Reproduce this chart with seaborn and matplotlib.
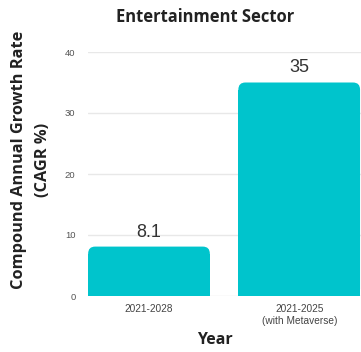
import matplotlib
matplotlib.use("Agg")
import matplotlib.pyplot as plt
from matplotlib.patches import FancyBboxPatch
import seaborn as sns
import pandas as pd

# Chart data
periods = ["2021-2028", "2021-2025\n(with Metaverse)"]
cagr = [8.1, 35]
y_ticks = [0, 10, 20, 30, 40]

title = "Entertainment Sector"
y_title = "Compound Annual Growth Rate\n(CAGR %)"
x_title = "Year"

BAR_COLOR = "#00C4CC"
GRID_COLOR = "#e8e8e8"
HEAD_FONT = ["Open Sans", "DejaVu Sans"]
BODY_FONT = ["Liberation Sans", "DejaVu Sans"]

sns.set_theme(style="white")
plt.rcParams["font.family"] = BODY_FONT

W, H = 361, 352
fig = plt.figure(figsize=(W / 100, H / 100), dpi=100)
ax_left, ax_right, ax_top, ax_bottom = 88, 362, 52, 296
ax = fig.add_axes([ax_left / W, (H - ax_bottom) / H,
                   (ax_right - ax_left) / W, (ax_bottom - ax_top) / H])

df = pd.DataFrame({"period": periods, "cagr": cagr})
sns.barplot(data=df, x="period", y="cagr", color=BAR_COLOR, saturation=1,
            width=0.81, ax=ax, zorder=3)

x_min, x_max = -0.406, 1.418
ax.set_xlim(x_min, x_max)
ax.set_ylim(0, 40)
ax.set_yticks(y_ticks)
ax.set_yticklabels([str(t) for t in y_ticks], fontsize=6.8, color="#555555")
ax.tick_params(axis="y", length=0, pad=9)
ax.tick_params(axis="x", length=0, pad=5.5, labelsize=7.3, labelcolor="#444444")
for lbl in ax.get_xticklabels():
    lbl.set_linespacing(1.25)

ax.grid(axis="y", color=GRID_COLOR, linewidth=1, zorder=0)
ax.set_axisbelow(True)
for s in ax.spines.values():
    s.set_visible(False)
ax.set_xlabel("")
ax.set_ylabel("")

# Rounded tops on the bars (square bottoms kept by the original patch)
ax_w_px = ax_right - ax_left
ax_h_px = ax_bottom - ax_top
x_per_px = (x_max - x_min) / ax_w_px
y_per_px = 40 / ax_h_px
radius_px = 7
rx = radius_px * x_per_px
aspect = y_per_px / x_per_px
ry = rx * aspect
for p in list(ax.patches):
    x0, y0, w, h = p.get_x(), p.get_y(), p.get_width(), p.get_height()
    rounded = FancyBboxPatch((x0, y0), w, h,
                             boxstyle=f"round,pad=0,rounding_size={rx}",
                             mutation_aspect=aspect, facecolor=BAR_COLOR,
                             edgecolor="none", zorder=3)
    ax.add_patch(rounded)
    p.set_height(h - ry)
    p.set_edgecolor("none")

# Value labels above the bars
for i, v in enumerate(cagr):
    ax.annotate(f"{v:g}", (i, v), xytext=(0, 10.5), textcoords="offset points",
                ha="center", va="center", fontsize=13, color="#333333")

fig.text(205 / W, 1 - 17 / H, title, ha="center", va="center",
         fontsize=11.9, fontweight="bold", family=HEAD_FONT, color="#222222")
fig.text(31 / W, 1 - 160 / H, y_title, ha="center", va="center", rotation=90,
         multialignment="center", linespacing=1.7,
         fontsize=11.8, fontweight="bold", family=HEAD_FONT, color="#222222")
fig.text(215 / W, 1 - 340 / H, x_title, ha="center", va="center",
         fontsize=11.5, fontweight="bold", family=HEAD_FONT, color="#222222")

fig.savefig("out.png", dpi=100)
